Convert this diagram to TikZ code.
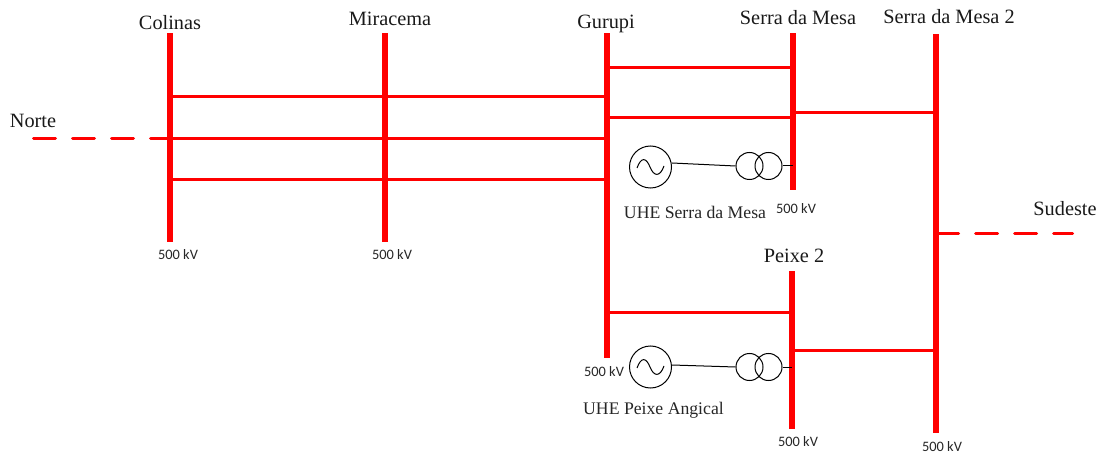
\documentclass[tikz,border=0pt]{standalone}
\usepackage{fontspec}
\setmainfont{Liberation Serif}
\newfontfamily\kvfont{Carlito}
\begin{document}
\begin{tikzpicture}[x=1pt,y=-1pt,
  bus/.style={fill=red,draw=none,inner sep=0pt,minimum width=6pt},
  link/.style={red,line width=3pt},
  feeder/.style={red,line width=3pt,line cap=round,dash pattern=on 22pt off 17pt},
  thin wire/.style={black,line width=1pt},
  gen/.style={circle,draw=black,line width=1pt,fill=none,minimum size=42pt,inner sep=0pt},
  winding/.style={circle,draw=black,line width=1pt,fill=none,minimum size=27pt,inner sep=0pt},
  busname/.style={font=\fontsize{20.3}{22}\selectfont,inner sep=0pt,text=black!90},
  plantname/.style={font=\fontsize{17.7}{20}\selectfont,inner sep=0pt,text=black!85},
  kv/.style={font=\kvfont\fontsize{14.4}{16}\selectfont,inner sep=0pt,text=black!85}]
\useasboundingbox (0,0) rectangle (1103,454);
% buses
\node[bus,minimum height=209pt] (colinas) at (170,137.5) {};
\node[bus,minimum height=209pt] (miracema) at (385,137.5) {};
\node[bus,minimum height=325pt] (gurupi) at (607,195.5) {};
\node[bus,minimum height=157pt] (sm) at (793,111.5) {};
\node[bus,minimum height=399pt] (sm2) at (936,233.5) {};
\node[bus,minimum height=158pt] (peixe) at (792,350) {};
% connection points
\coordinate (c1) at (170,96.5); \coordinate (g1) at (607,96.5);
\coordinate (c2) at (170,138.5); \coordinate (g2) at (607,138.5);
\coordinate (c3) at (170,179.5); \coordinate (g3) at (607,179.5);
\coordinate (g4) at (607,67.5); \coordinate (s4) at (793,67.5);
\coordinate (g5) at (607,117.5); \coordinate (s5) at (793,117.5);
\coordinate (s6) at (793,112.5); \coordinate (t6) at (936,112.5);
\coordinate (g7) at (607,312.5); \coordinate (p7) at (792,312.5);
\coordinate (p8) at (792,350); \coordinate (t8) at (936,350);
\coordinate (t9) at (936.5,234); \coordinate (sudesteEnd) at (1072.5,234);
\coordinate (norteEnd) at (33.5,138.5);
% links
\draw[link] (c1) -- (g1);
\draw[link] (c2) -- (g2);
\draw[link] (c3) -- (g3);
\draw[link] (g4) -- (s4);
\draw[link] (g5) -- (s5);
\draw[link] (s6) -- (t6);
\draw[link] (g7) -- (p7);
\draw[link] (p8) -- (t8);
\draw[feeder] (norteEnd) -- (c2);
\draw[feeder] (t9) -- (sudesteEnd);
% UHE Serra da Mesa
\node[gen] (gen1) at (650.5,167) {};
\node[winding] (w1a) at (749.5,166) {};
\node[winding] (w1b) at (768.5,166) {};
\coordinate (b1) at (793,166);
\draw[thin wire] (gen1.east) ++(0,-4) -- (w1a.west);
\draw[thin wire] (w1b.east) -- (b1);
\draw[black,line width=1pt] (637,168) .. controls (641,157) and (646,157) .. (650,167) .. controls (654,177) and (660,177) .. (664,166);
% UHE Peixe Angical
\node[gen] (gen2) at (650.5,367) {};
\node[winding] (w2a) at (749.5,367) {};
\node[winding] (w2b) at (768.5,367) {};
\coordinate (b2) at (792,367);
\draw[thin wire] (gen2.east) ++(0,-2) -- (w2a.west);
\draw[thin wire] (w2b.east) -- (b2);
\draw[black,line width=1pt] (637,368) .. controls (641,357) and (646,357) .. (650,367) .. controls (654,377) and (660,377) .. (664,366);
% labels
\node[busname] (lcol) at (170,23) {Colinas};
\node[busname] (lmir) at (390,19) {Miracema};
\node[busname] (lgur) at (606,23.5) {Gurupi};
\node[busname] (lsm) at (798,17.5) {Serra da Mesa};
\node[busname] (lsm2) at (949,16.5) {Serra da Mesa 2};
\node[busname] (lnor) at (33,121) {Norte};
\node[busname] (lsud) at (1065,209) {Sudeste};
\node[busname] (lpei) at (794,256) {Peixe 2};
\node[plantname] (lu1) at (695,212) {UHE Serra da Mesa};
\node[plantname] (lu2) at (653.5,410.5) {UHE Peixe Angical};
\node[kv] (k1) at (178,255) {500 kV};
\node[kv] (k2) at (392,255) {500 kV};
\node[kv] (k3) at (796,208.5) {500 kV};
\node[kv] (k4) at (604,371.5) {500 kV};
\node[kv] (k5) at (798,441.5) {500 kV};
\node[kv] (k6) at (942,446.5) {500 kV};
\end{tikzpicture}
\end{document}
